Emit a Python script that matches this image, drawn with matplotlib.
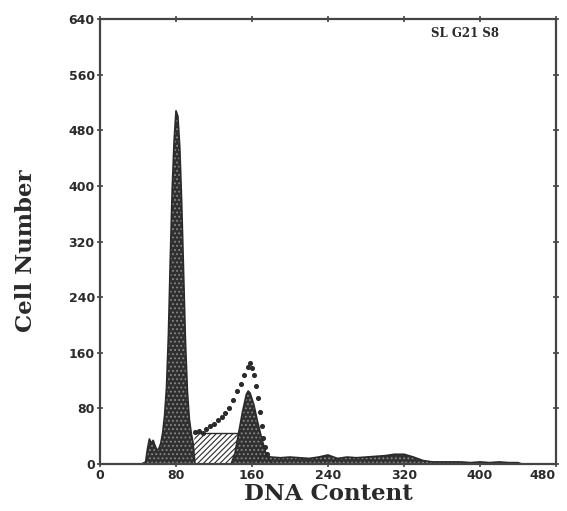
import numpy as np
import matplotlib.pyplot as plt

# --- data ---
# G1 peak (incl. small debris on its left)
g1_x = [44, 48, 50, 52, 54, 56, 58, 60, 62, 64, 66, 68, 70, 72, 74, 76, 78, 80,
        82, 84, 86, 88, 90, 92, 94, 96, 98, 100]
g1_y = [0, 3, 22, 36, 30, 34, 26, 20, 22, 30, 45, 70, 110, 185, 295, 395, 465, 508,
        500, 455, 375, 275, 175, 105, 65, 45, 30, 0]

# S-phase component (hatched)
s_x = [96, 100, 146, 176]
s_y = [0, 44, 44, 0]

# G2 peak
g2_x = [138, 142, 146, 150, 154, 156, 158, 162, 166, 170, 174, 178, 182]
g2_y = [0, 15, 45, 75, 100, 105, 102, 85, 60, 38, 18, 6, 0]

# aggregates / tail
tail_x = [166, 170, 180, 190, 200, 210, 220, 230, 240, 250, 260, 270, 280, 290, 300,
          310, 320, 330, 340, 350, 360, 370, 380, 390, 400, 410, 420, 430, 440, 444]
tail_y = [0, 12, 10, 9, 10, 9, 8, 10, 13, 8, 10, 9, 10, 11, 12,
          14, 14, 10, 5, 3, 3, 3, 3, 2, 3, 2, 3, 2, 2, 0]

# measured points above the fitted components
pts_x = [100, 104, 108, 112, 116, 120, 124, 128, 132, 136, 140, 144, 148, 152,
         156, 158, 160, 162, 164, 166, 168, 170, 172, 174, 176]
pts_y = [46, 48, 45, 50, 55, 58, 63, 68, 74, 80, 92, 105, 115, 128,
         140, 145, 138, 128, 112, 95, 75, 55, 38, 25, 15]

x_ticks = [0, 80, 160, 240, 320, 400, 480]
y_ticks = [0, 80, 160, 240, 320, 400, 480, 560, 640]

ink = '#2a2a2a'
plt.rcParams['hatch.linewidth'] = 0.8

fig = plt.figure(figsize=(5.67, 5.11), dpi=100)
ax = fig.add_axes([100 / 567, 1 - 464 / 511, 456 / 567, 445 / 511])

# S-phase hatched area
ax.fill_between(s_x, s_y, facecolor='white', edgecolor=ink, hatch='//////', linewidth=0)
ax.plot(s_x[1:3], s_y[1:3], color=ink, lw=1)

# dark stippled components
for xs, ys in [(g1_x, g1_y), (g2_x, g2_y), (tail_x, tail_y)]:
    ax.fill_between(xs, ys, facecolor='#303030', edgecolor='#8a8a8a', hatch='....', linewidth=0)
    ax.plot(xs, ys, color=ink, lw=1.2)

ax.scatter(pts_x, pts_y, s=7, color=ink, zorder=3)

ax.set_xlim(0, 480)
ax.set_ylim(0, 640)
ax.set_xticks(x_ticks)
ax.set_yticks(y_ticks)

tick_font = dict(family='DejaVu Sans', weight='bold', size=9)
ax.set_xticklabels([str(t) for t in x_ticks], fontdict=tick_font, color=ink)
ax.set_yticklabels([str(t) for t in y_ticks], fontdict=tick_font, color=ink)
ax.get_xticklabels()[-1].set_ha('right')
ax.tick_params(direction='inout', length=4.5, width=1.2, color='#444444',
               top=True, right=True, pad=1.5)

for sp in ax.spines.values():
    sp.set_linewidth(1.6)
    sp.set_color('#444444')

label_font = dict(family='DejaVu Serif', weight='bold', size=16.5)
ax.set_xlabel('DNA Content', fontdict=label_font, color=ink)
ax.set_ylabel('Cell Number', fontdict=label_font, color=ink)
ax.xaxis.set_label_coords(0.5, -0.067)
ax.xaxis.label.set_va('center')
ax.yaxis.set_label_coords(-0.162, 0.48)
ax.yaxis.label.set_va('center')

ax.text(0.80, 0.968, 'SL G21 S8', transform=ax.transAxes, ha='center', va='center',
        family='DejaVu Serif', weight='bold', size=8.5, color=ink)

fig.savefig('out.png', dpi=100)
